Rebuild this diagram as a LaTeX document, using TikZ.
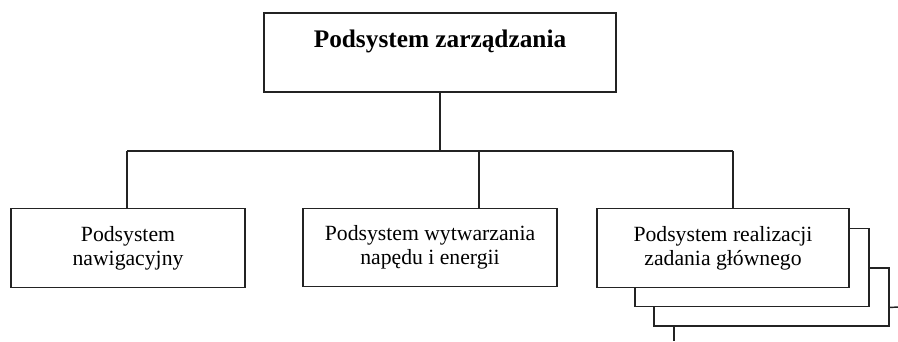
\documentclass[tikz,border=0pt]{standalone}
\usepackage{fontspec}
\setmainfont{Liberation Serif}
\usetikzlibrary{positioning}
\definecolor{ramka}{RGB}{35,35,35}

\begin{document}
\begin{tikzpicture}[x=0.553pt, y=-0.553pt,
 blok/.style={draw=ramka, fill=white, line width=0.8pt, align=center, inner sep=0pt,
   font=\fontsize{12}{13.3}\selectfont, minimum height=43.4pt},
 tytul/.style={font=\fontsize{14}{16}\selectfont\bfseries, text height=10pt, text depth=16pt},
 link/.style={draw=ramka, line width=0.8pt},
]
 \useasboundingbox (0,0) rectangle (898,341);
 % main block
 \node[blok, tytul, minimum width=194.7pt, minimum height=43.7pt] (zarz) at (440,52.5) {Podsystem zarządzania};
 % stacked copies behind the last block (cut off at the page edge)
 \node[blok, minimum width=130pt, minimum height=32.1pt] (kopia2) at (771.5,297) {};
 \node[blok, minimum width=129.4pt] (kopia1) at (752,267.5) {};
 % sub-systems
 \node[blok, minimum width=129.4pt] (nawig) at (128,248) {Podsystem\\nawigacyjny};
 \node[blok, minimum width=140.5pt] (naped) at (430,247.5) {Podsystem wytwarzania\\napędu i energii};
 \node[blok, minimum width=139.4pt] (zadanie) at (723,248) {Podsystem realizacji\\zadania głównego};
 % bus
 \coordinate (bus) at (440,151);
 \coordinate (j1) at (127,151);
 \coordinate (j2) at (479,151);
 \coordinate (j3) at (733,151);
 \draw[link] (zarz.south) -- (bus);
 \draw[link] (j1) -- (j3);
 \draw[link] (j1) -- (j1 |- nawig.north);
 \draw[link] (j2) -- (j2 |- naped.north);
 \draw[link] (j3) -- (j3 |- zadanie.north);
 % loose ends of the copies
 \coordinate (s1) at (898,307);
 \coordinate (s2) at (674,341);
 \draw[link] (kopia2.east |- kopia1.south) -- (s1);
 \draw[link] (s2 |- kopia2.south) -- (s2);
\end{tikzpicture}
\end{document}
